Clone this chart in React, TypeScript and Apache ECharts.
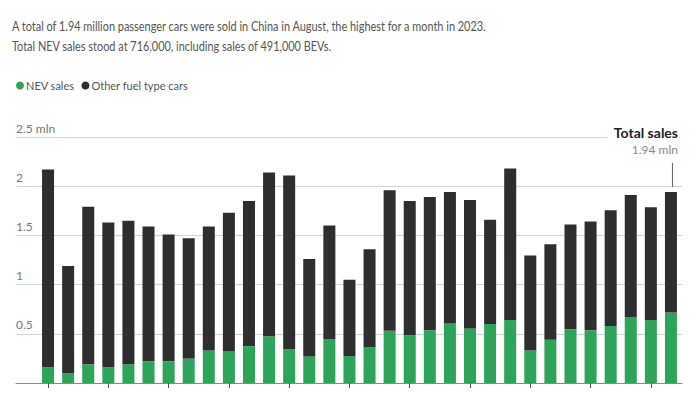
import React, { useEffect, useRef } from "react";
import * as echarts from "echarts";

const months = [
  "Jan 2021", "Feb 2021", "Mar 2021", "Apr 2021", "May 2021", "Jun 2021", "Jul 2021", "Aug 2021",
  "Sep 2021", "Oct 2021", "Nov 2021", "Dec 2021", "Jan 2022", "Feb 2022", "Mar 2022", "Apr 2022",
  "May 2022", "Jun 2022", "Jul 2022", "Aug 2022", "Sep 2022", "Oct 2022", "Nov 2022", "Dec 2022",
  "Jan 2023", "Feb 2023", "Mar 2023", "Apr 2023", "May 2023", "Jun 2023", "Jul 2023", "Aug 2023",
];

// million units
const nevSales = [
  0.16, 0.1, 0.19, 0.16, 0.19, 0.22, 0.22, 0.25, 0.33, 0.32, 0.375, 0.475, 0.345, 0.27, 0.445, 0.275,
  0.36, 0.53, 0.485, 0.535, 0.605, 0.555, 0.6, 0.64, 0.33, 0.44, 0.545, 0.535, 0.58, 0.67, 0.64, 0.716,
];
const otherSales = [
  2.01, 1.09, 1.6, 1.47, 1.46, 1.37, 1.29, 1.22, 1.26, 1.41, 1.475, 1.665, 1.765, 0.99, 1.155, 0.775,
  1.0, 1.43, 1.365, 1.355, 1.335, 1.305, 1.06, 1.54, 0.965, 0.97, 1.065, 1.105, 1.175, 1.24, 1.145, 1.224,
];

const yTicks = [0, 0.5, 1, 1.5, 2, 2.5];
const subtitleLines = [
  "A total of 1.94 million passenger cars were sold in China in August, the highest for a month in 2023.",
  "Total NEV sales stood at 716,000, including sales of 491,000 BEVs.",
];
const totalLabel = "Total sales";
const totalValueLabel = "1.94 mln";

const FONT = "Lato, 'Noto Sans', sans-serif";
const GREEN = "#2ea35a";
const DARK = "#2e2e2e";

export default function App() {
  const ref = useRef<HTMLDivElement>(null);
  useEffect(() => {
    if (!ref.current) return;
    const chart = echarts.init(ref.current, null, { renderer: "svg" });
    const yMax = yTicks[yTicks.length - 1];
    chart.setOption({
      animation: false,
      backgroundColor: "#fff",
      textStyle: { fontFamily: FONT },
      legend: {
        left: 11,
        top: 75,
        icon: "circle",
        itemWidth: 8,
        itemHeight: 8,
        itemGap: 7,
        textStyle: { fontFamily: FONT, fontSize: 11, color: "#555", padding: [0, 0, 0, -3] },
        data: ["NEV sales", "Other fuel type cars"],
      },
      grid: [
        { left: 16, right: 18, top: 137, bottom: 11 },
        { left: 38, right: 19, top: 137, bottom: 11 },
      ],
      xAxis: [
        {
          gridIndex: 0,
          type: "value",
          min: 0,
          max: 1,
          axisLine: { show: true, lineStyle: { color: "#8a8a8a", width: 1 } },
          axisTick: { show: false },
          axisLabel: { show: false },
          splitLine: { show: false },
        },
        {
          gridIndex: 1,
          type: "category",
          data: months,
          axisLine: { show: false },
          axisTick: { show: true, alignWithLabel: true, interval: 2, length: 5, lineStyle: { color: "#555" } },
          axisLabel: { show: false },
        },
      ],
      yAxis: [
        {
          gridIndex: 0,
          type: "value",
          min: 0,
          max: yMax,
          interval: 0.5,
          axisLine: { show: false },
          axisTick: { show: false },
          splitLine: { show: true, lineStyle: { color: "#d4d4d4", width: 1 } },
          axisLabel: {
            inside: true,
            margin: 0,
            align: "left",
            verticalAlign: "bottom",
            padding: [0, 0, 3, 0],
            color: "#777",
            fontSize: 12,
            fontFamily: FONT,
            formatter: (v: number) => (v === 0 ? "" : v === yMax ? `${v} mln` : `${v}`),
          },
        },
        { gridIndex: 1, type: "value", min: 0, max: yMax, show: false },
      ],
      series: [
        {
          name: "NEV sales",
          type: "bar",
          stack: "total",
          xAxisIndex: 1,
          yAxisIndex: 1,
          barWidth: 12,
          itemStyle: { color: GREEN },
          data: nevSales,
        },
        {
          name: "Other fuel type cars",
          type: "bar",
          stack: "total",
          xAxisIndex: 1,
          yAxisIndex: 1,
          barWidth: 12,
          itemStyle: { color: DARK },
          data: otherSales,
        },
      ],
    });

    const last = months.length - 1;
    const total = nevSales[last] + otherSales[last];
    const p = chart.convertToPixel({ xAxisIndex: 1, yAxisIndex: 1 }, [months[last], total]) as number[];
    const rightX = 678;
    chart.setOption({
      graphic: [
        ...subtitleLines.map((line, i) => ({
          type: "text",
          x: 12,
          y: 26 + i * 20,
          scaleX: 0.81,
          style: {
            text: line,
            align: "left",
            verticalAlign: "middle",
            font: `13.5px ${FONT}`,
            fill: "#555",
          },
        })),
        { type: "rect", shape: { x: 608, y: 131, width: 92, height: 12 }, style: { fill: "#fff" }, z: 10 },
        {
          type: "text",
          x: rightX,
          y: 132,
          style: {
            text: totalLabel,
            align: "right",
            verticalAlign: "middle",
            font: `bold 14px ${FONT}`,
            fill: "#222",
          },
          z: 11,
        },
        {
          type: "text",
          x: rightX,
          y: 149,
          style: {
            text: totalValueLabel,
            align: "right",
            verticalAlign: "middle",
            font: `12px ${FONT}`,
            fill: "#888",
          },
          z: 11,
        },
        {
          type: "line",
          shape: { x1: p[0] + 1.5, y1: 163, x2: p[0] + 1.5, y2: p[1] - 5 },
          style: { stroke: "#666", lineWidth: 1 },
          z: 11,
        },
      ],
    });
    return () => chart.dispose();
  }, []);
  return <div ref={ref} style={{ position: "fixed", left: 0, top: 0, width: 700, height: 394 }} />;
}
